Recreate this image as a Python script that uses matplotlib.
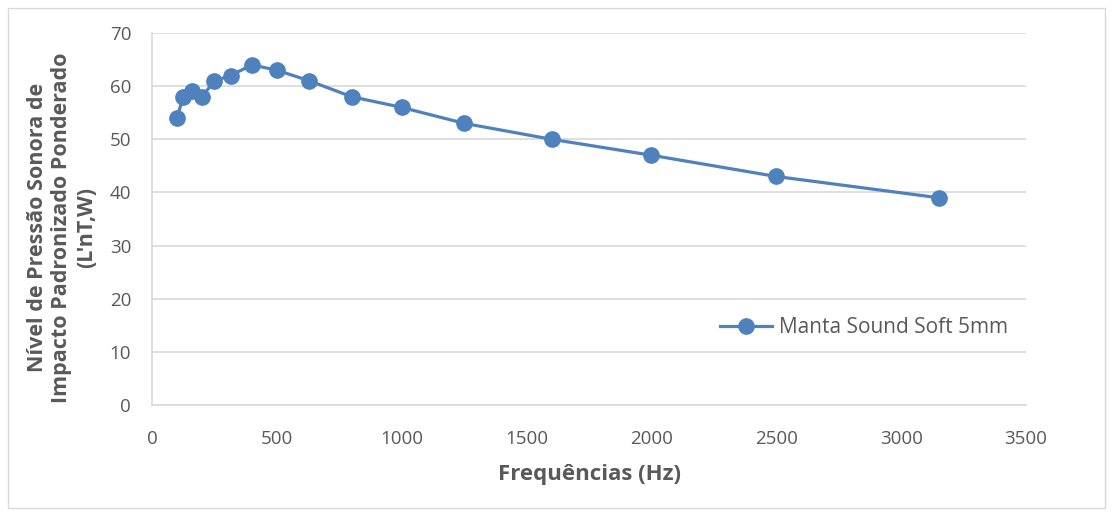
import matplotlib
matplotlib.use("Agg")
import matplotlib.pyplot as plt
from matplotlib.patches import Rectangle

freqs = [100, 125, 160, 200, 250, 315, 400, 500, 630, 800, 1000, 1250, 1600, 2000, 2500, 3150]
levels = [54, 58, 59, 58, 61, 62, 64, 63, 61, 58, 56, 53, 50, 47, 43, 39]
series_name = "Manta Sound Soft 5mm"
xticks = [0, 500, 1000, 1500, 2000, 2500, 3000, 3500]
yticks = [0, 10, 20, 30, 40, 50, 60, 70]

plt.rcParams['font.family'] = ['Open Sans', 'DejaVu Sans']
txt = '#595959'
grid = '#d9d9d9'
blue = '#4f81bd'

fig = plt.figure(figsize=(11.13, 5.16), dpi=100)
fig.patches.append(Rectangle((8/1113, 8/516), 1097/1113, 500/516, transform=fig.transFigure,
                             fill=False, edgecolor=grid, linewidth=1))
ax = fig.add_axes([152/1113, 1-405/516, (1026-152)/1113, (405-33)/516])

ax.plot(freqs, levels, color=blue, linewidth=2.3, marker='o', markersize=11,
        markerfacecolor=blue, markeredgecolor=blue, label=series_name, zorder=3)

ax.set_xlim(0, 3500)
ax.set_ylim(0, 70)
ax.set_xticks(xticks)
ax.set_yticks(yticks)
ax.tick_params(axis='both', length=0, labelsize=13.5, colors=txt)
ax.tick_params(axis='y', pad=15)
ax.tick_params(axis='x', pad=18)
ax.grid(axis='y', color=grid, linewidth=1.2)
ax.set_axisbelow(True)
for s in ['top', 'right']:
    ax.spines[s].set_visible(False)
for s in ['left', 'bottom']:
    ax.spines[s].set_color(grid)
    ax.spines[s].set_linewidth(1.2)

ax.set_xlabel('Frequências (Hz)', fontsize=16, fontweight='bold', color=txt, va='center')
ax.xaxis.set_label_coords(0.5, -0.188)
ax.set_ylabel('Nível de Pressão Sonora de\nImpacto Padronizado Ponderado\n(L\'nT,W)',
              fontsize=15.5, fontweight='bold', color=txt, linespacing=1.2, va='center')
ax.yaxis.set_label_coords(-0.103, 0.476)

leg = ax.legend(loc='center left', bbox_to_anchor=(0.64, 0.207), frameon=False,
                fontsize=15, handlelength=2.5, handletextpad=0.35, labelcolor=txt, borderaxespad=0)

fig.savefig('out.png', dpi=100)
